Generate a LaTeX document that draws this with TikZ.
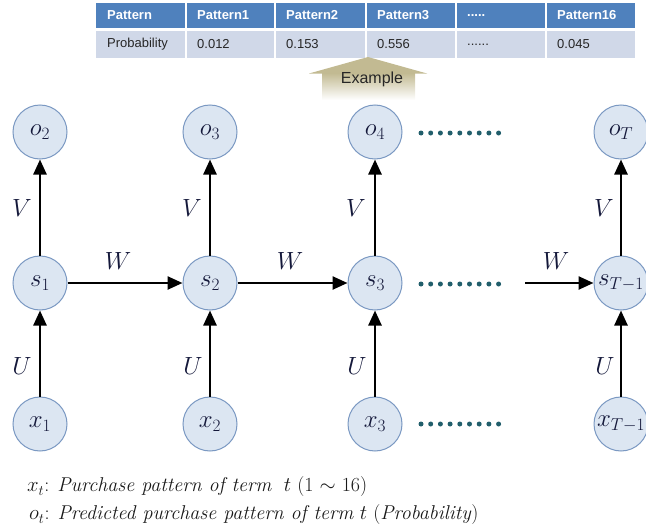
\documentclass[tikz,border=0pt]{standalone}
\usepackage{fontspec}
\newfontfamily\tabfont{Liberation Sans}
\usetikzlibrary{arrows.meta}
\definecolor{hdr}{HTML}{4F81BD}
\definecolor{rowc}{HTML}{D0D8E8}
\definecolor{nodefill}{HTML}{DCE6F2}
\definecolor{nodedraw}{HTML}{7A98C2}
\definecolor{dotc}{HTML}{215E6B}
\definecolor{tanc}{HTML}{C2BA92}
\definecolor{inkc}{HTML}{14183A}
\begin{document}
\begin{tikzpicture}[x=1pt,y=-1pt,
  unit/.style={circle, draw=nodedraw, fill=nodefill, line width=1pt, minimum size=54pt, inner sep=0pt, text=inkc, font=\fontsize{26}{30}\selectfont},
  conn/.style={line width=2.5pt, -{Triangle[width=13pt,length=15pt]}},
  lab/.style={text=inkc, font=\fontsize{25}{30}\selectfont, inner sep=0pt},
  hcell/.style={anchor=west, text=white, inner sep=0pt, font=\tabfont\bfseries\fontsize{13}{15}\selectfont},
  dcell/.style={anchor=west, text=black!85, inner sep=0pt, font=\tabfont\fontsize{13}{15}\selectfont},
  note/.style={anchor=west, inner sep=0pt, text=black!90, font=\fontsize{20}{24}\selectfont}
]
\useasboundingbox (0,0) rectangle (646,530);
\clip (0,0) rectangle (646,530);
% table
\fill[hdr] (96,3) rectangle (635,28);
\fill[rowc] (96,31) rectangle (635,58);
\foreach \x in {186,275,366,456,546} \draw[white, line width=2pt] (\x,3) -- (\x,58);
\node[hcell] (h0) at (107,15.5) {Pattern};
\node[hcell] (h1) at (197,15.5) {Pattern1};
\node[hcell] (h2) at (286,15.5) {Pattern2};
\node[hcell] (h3) at (377,15.5) {Pattern3};
\node[hcell] (h4) at (467,15.5) {.....};
\node[hcell] (h5) at (557,15.5) {Pattern16};
\node[dcell] (r0) at (107,44.5) {Probability};
\node[dcell] (r1) at (197,44.5) {0.012};
\node[dcell] (r2) at (286,44.5) {0.153};
\node[dcell] (r3) at (377,44.5) {0.556};
\node[dcell] (r4) at (467,44.5) {......};
\node[dcell] (r5) at (557,44.5) {0.045};
% example arrow
\fill[tanc] (368,57) -- (427,73.5) -- (309,73.5) -- cycle;
\shade[top color=tanc, bottom color=white] (322,73) rectangle (415,100);
\node[inner sep=0pt, text=black!85, font=\tabfont\fontsize{16}{18}\selectfont] (ex) at (372,79) {Example};
% nodes
\node[unit] (o2) at (40,132) {$o_2$};
\node[unit] (o3) at (210,132) {$o_3$};
\node[unit] (o4) at (375,132) {$o_4$};
\node[unit] (oT) at (621,132) {$o_T$};
\node[unit] (s1) at (40,283) {$s_1$};
\node[unit] (s2) at (210,283) {$s_2$};
\node[unit] (s3) at (375,283) {$s_3$};
\node[unit] (sT) at (621,283) {$s_{T-1}$};
\node[unit] (x1) at (40,424) {$x_1$};
\node[unit] (x2) at (210,424) {$x_2$};
\node[unit] (x3) at (375,424) {$x_3$};
\node[unit] (xT) at (621,424) {$x_{T-1}$};
% connectors
\foreach \c in {1,2,3,T} {\draw[conn] (x\c) -- (s\c);}
\draw[conn] (s1) -- (o2);
\draw[conn] (s2) -- (o3);
\draw[conn] (s3) -- (o4);
\draw[conn] (sT) -- (oT);
\draw[conn] (s1) -- (s2);
\draw[conn] (s2) -- (s3);
\coordinate (wstart) at (525,283);
\draw[conn] (wstart) -- (sT);
% labels
\node[lab] (v1) at (22,208) {$V$};
\node[lab] (v2) at (192,208) {$V$};
\node[lab] (v3) at (356,208) {$V$};
\node[lab] (v4) at (604,208) {$V$};
\node[lab] (u1) at (22,366) {$U$};
\node[lab] (u2) at (193,366) {$U$};
\node[lab] (u3) at (357,366) {$U$};
\node[lab] (u4) at (605,366) {$U$};
\node[lab] (w1) at (118,261) {$W$};
\node[lab] (w2) at (290,261) {$W$};
\node[lab] (w3) at (556,261) {$W$};
% dots
\foreach \yy in {133,284,424} {\foreach \i in {0,...,8} {\fill[dotc] (421+\i*9.7,\yy) circle (2.5);}}
% notes
\node[note] (n1) at (27,487) {$x_t$: \textit{Purchase pattern of term}\ \ $t$ (1 $\sim$ 16)};
\node[note] (n2) at (29,515) {$o_t$: \textit{Predicted purchase pattern of term} $t$ (\textit{Probability})};
\end{tikzpicture}
\end{document}
